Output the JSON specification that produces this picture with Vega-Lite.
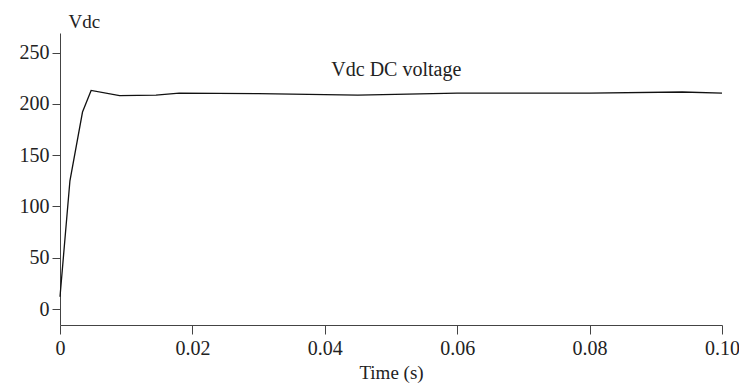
{
  "$schema": "https://vega.github.io/schema/vega-lite/v6.json",
  "autosize": "none",
  "width": 662,
  "height": 292,
  "padding": {"left": 60, "top": 33, "right": 17, "bottom": 62},
  "background": "white",
  "config": {
    "view": {"stroke": null},
    "font": "Liberation Serif",
    "axis": {"grid": false, "domainColor": "#444", "tickColor": "#444", "labelColor": "#222", "titleColor": "#222", "labelFont": "Liberation Serif", "titleFont": "Liberation Serif", "labelFontSize": 20, "titleFontSize": 19, "titleFontWeight": "normal"}
  },
  "datasets": {
    "vdc": [
      {"t": 0.0, "v": 12},
      {"t": 0.0015, "v": 125},
      {"t": 0.0034, "v": 192},
      {"t": 0.0047, "v": 213},
      {"t": 0.009, "v": 208},
      {"t": 0.0145, "v": 208.5},
      {"t": 0.018, "v": 210.5},
      {"t": 0.03, "v": 210},
      {"t": 0.045, "v": 208.5},
      {"t": 0.06, "v": 210.5},
      {"t": 0.08, "v": 210.5},
      {"t": 0.094, "v": 211.5},
      {"t": 0.1, "v": 210.5}
    ],
    "label": [{"t": 0.0508, "v": 233, "text": "Vdc DC voltage"}]
  },
  "layer": [
    {
      "data": {"name": "vdc"},
      "mark": {"type": "line", "color": "#111", "strokeWidth": 1.3},
      "encoding": {
        "x": {"field": "t", "type": "quantitative", "scale": {"domain": [0, 0.1], "nice": false, "zero": false},
          "axis": {"title": "Time (s)", "values": [0, 0.02, 0.04, 0.06, 0.08, 0.1], "format": ".2f", "labelExpr": "datum.value == 0 ? '0' : datum.label", "tickSize": 9, "labelPadding": 4, "titlePadding": 5, "labelFlush": false}},
        "y": {"field": "v", "type": "quantitative", "scale": {"domain": [-15.5, 269], "nice": false, "zero": false},
          "axis": {"title": "Vdc", "titleAngle": 0, "titleX": 8, "titleY": -6, "titleAlign": "left", "titleBaseline": "alphabetic", "values": [0, 50, 100, 150, 200, 250], "tickSize": 8, "labelPadding": 3}}
      }
    },
    {
      "data": {"name": "label"},
      "mark": {"type": "text", "fontSize": 20, "font": "Liberation Serif", "color": "#222", "align": "center", "baseline": "middle"},
      "encoding": {
        "x": {"field": "t", "type": "quantitative"},
        "y": {"field": "v", "type": "quantitative"},
        "text": {"field": "text"}
      }
    }
  ]
}
